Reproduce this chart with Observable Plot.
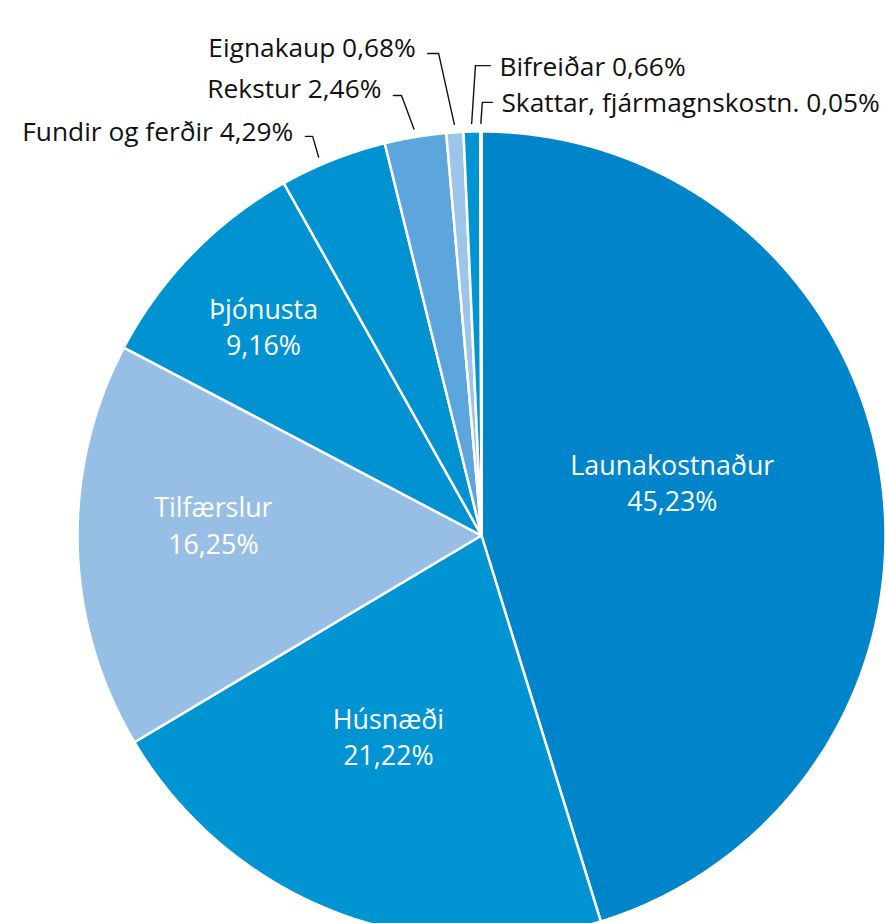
<!DOCTYPE html>
<html><head><meta charset="utf-8">
<script src="https://cdn.jsdelivr.net/npm/d3@7"></script>
<script src="https://cdn.jsdelivr.net/npm/@observablehq/plot@0.6"></script>
<style>html,body{margin:0;padding:0;background:#fff;} svg{display:block}</style>
</head><body><div id="chart"></div>
<script>
// ---- data ----
const categories = ["Launakostnaður","Húsnæði","Tilfærslur","Þjónusta","Fundir og ferðir","Rekstur","Eignakaup","Bifreiðar","Skattar, fjármagnskostn."];
const shares = [45.23, 21.22, 16.25, 9.16, 4.29, 2.46, 0.68, 0.66, 0.05];
const shareLabels = ["45,23%","21,22%","16,25%","9,16%","4,29%","2,46%","0,68%","0,66%","0,05%"];
const colors = ["#0084ca","#0094d3","#97bfe6","#0092d1","#0092d1","#5ca5dd","#9dc4e9","#0094d3","#9dc4e9"];

// ---- layout (not data) ----
const FONT = "Open Sans";
const FS = 26.8;
const FS_OUT = 26.3;
const R = 404; // pixels per unit radius
// inside labels: [angle offset from slice middle (deg), radius fraction]
const insideLayout = {0: [-6.4, 0.489], 1: [3.6, 0.553], 2: [3.4, 0.664], 3: [-0.7, 0.744]};
// outside labels: elbow point in unit-radius coordinates, side (-1 left, +1 right), tick length,
// vertical text shift (px, + = down), leader angle offset (deg)
const outsideLayout = {
  4: {ex: -0.418, ey: 0.988, side: -1, tick: 0.018, dy: -4, ao: -1.7},
  5: {ex: -0.198, ey: 1.089, side: -1, tick: 0.020, dy: -6, ao: 0},
  6: {ex: -0.106, ey: 1.193, side: -1, tick: 0.027, dy: -5, ao: 0},
  7: {ex: -0.015, ey: 1.163, side: 1, tick: 0.037, dy: 2, ao: 0},
  8: {ex: 0.002, ey: 1.072, side: 1, tick: 0.025, dy: 1, ao: 0}
};

// ---- geometry from data ----
const total = d3.sum(shares);
let cum = 0;
const slices = categories.map((name, i) => {
  const a0 = cum / total * 360;
  cum += shares[i];
  const a1 = cum / total * 360;
  return {i, name, a0, a1, mid: (a0 + a1) / 2, color: colors[i], pct: shareLabels[i]};
});
const rad = a => a * Math.PI / 180;
const polar = (a, r) => ({x: r * Math.sin(rad(a)), y: r * Math.cos(rad(a))});

function slicePolygon(s) {
  const pts = [{x: 0, y: 0}];
  const n = Math.max(2, Math.ceil((s.a1 - s.a0) / 0.25));
  for (let k = 0; k <= n; k++) pts.push(polar(s.a0 + (s.a1 - s.a0) * k / n, 1));
  return pts;
}

const marks = slices.map(s => Plot.line(slicePolygon(s), {
  x: "x", y: "y", fill: s.color, stroke: "white", strokeWidth: 2.5,
  curve: "linear-closed", strokeLinejoin: "round"
}));

// inside labels
const inside = slices.filter(s => insideLayout[s.i]).map(s => {
  const [off, r] = insideLayout[s.i];
  const p = polar(s.mid + off, r);
  return {...p, text: s.name + "\n" + s.pct};
});
marks.push(Plot.text(inside, {x: "x", y: "y", text: "text", fill: "white", fontSize: FS, lineHeight: 1.36, dy: -3, fontFamily: FONT}));

// outside labels with leader lines
const outside = slices.filter(s => outsideLayout[s.i]).map(s => {
  const L = outsideLayout[s.i];
  const start = polar(s.mid + L.ao, 1.02);
  const elbow = {x: L.ex, y: L.ey};
  const end = {x: L.ex + L.side * L.tick, y: L.ey};
  return {s, L, pts: [start, elbow, end], tx: end.x, ty: end.y - L.dy / R, text: s.name + " " + s.pct};
});
outside.forEach(o => marks.push(Plot.line(o.pts, {x: "x", y: "y", stroke: "#111", strokeWidth: 1.4})));
marks.push(Plot.text(outside.filter(o => o.L.side < 0), {
  x: "tx", y: "ty", text: "text", textAnchor: "end", dx: -12,
  fill: "#111", fontSize: FS_OUT, fontFamily: FONT
}));
marks.push(Plot.text(outside.filter(o => o.L.side > 0), {
  x: "tx", y: "ty", text: "text", textAnchor: "start", dx: 9,
  fill: "#111", fontSize: FS_OUT, fontFamily: FONT
}));

const chart = Plot.plot({
  width: 886, height: 923, margin: 0,
  style: {background: "white", overflow: "hidden"},
  x: {domain: [-1, 1], range: [77, 885], axis: null},
  y: {domain: [-1, 1], range: [939, 131], axis: null},
  marks
});
document.getElementById("chart").appendChild(chart);
</script>
</body></html>
